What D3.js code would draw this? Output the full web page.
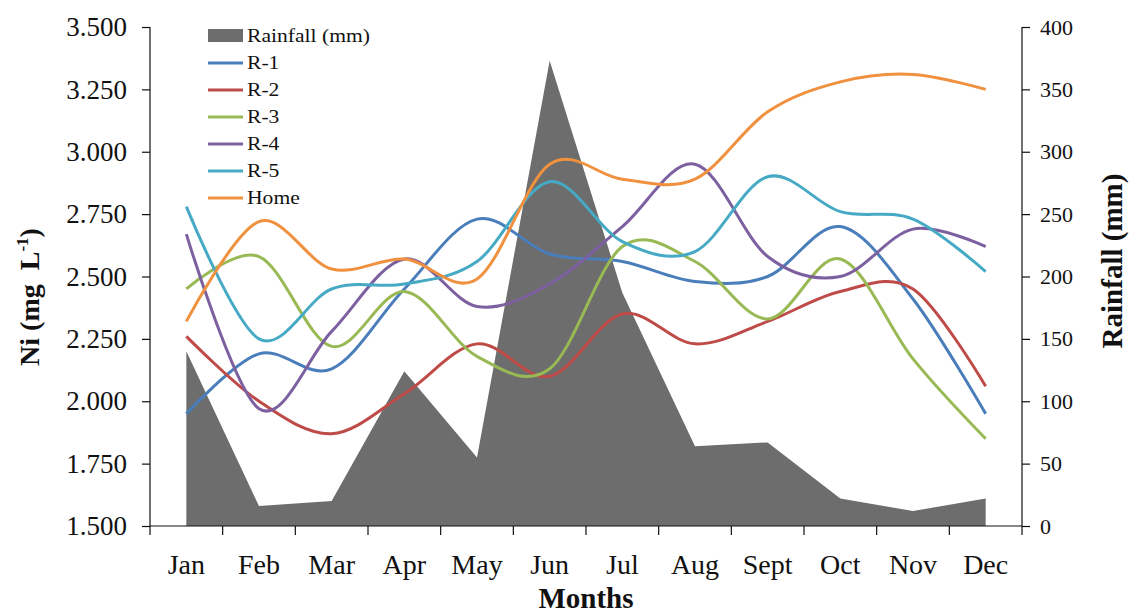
<!DOCTYPE html>
<html><head><meta charset="utf-8">
<script src="https://cdn.jsdelivr.net/npm/d3@7"></script>
<style>
body{margin:0;background:#fff;}
text{font-family:"Liberation Serif","Times New Roman",serif;fill:#111;}
</style></head>
<body><svg id="c" width="1132" height="614"></svg>
<script>
const months = ["Jan","Feb","Mar","Apr","May","Jun","Jul","Aug","Sept","Oct","Nov","Dec"];
const rainfall = [140,16,20,124,55,373,187,64,67,22,12,22];
const r1   = [1.95,2.19,2.13,2.45,2.73,2.59,2.56,2.48,2.50,2.70,2.41,1.95];
const r2   = [2.26,2.00,1.87,2.03,2.23,2.10,2.35,2.23,2.32,2.44,2.45,2.06];
const r3   = [2.45,2.58,2.22,2.44,2.18,2.13,2.62,2.56,2.33,2.57,2.17,1.85];
const r4   = [2.67,1.97,2.28,2.57,2.38,2.47,2.70,2.95,2.58,2.50,2.69,2.62];
const r5   = [2.78,2.25,2.45,2.47,2.56,2.88,2.64,2.60,2.90,2.76,2.73,2.52];
const home = [2.32,2.72,2.53,2.57,2.49,2.95,2.89,2.89,3.16,3.28,3.31,3.25];
const leftTicks = [1.5,1.75,2.0,2.25,2.5,2.75,3.0,3.25,3.5];
const rightTicks = [0,50,100,150,200,250,300,350,400];
const seriesNames = ["R-1","R-2","R-3","R-4","R-5","Home"];
const seriesData = [r1,r2,r3,r4,r5,home];
const seriesColors = ["#4A7EBB","#BE4B48","#98B954","#7D60A0","#46AAC5","#F0913F"];

const svg = d3.select("#c");
const L=150, R=1022, T=27, B=526;
const x = d3.scaleBand().domain(months).range([L,R]);
const cx = m => x(m)+x.bandwidth()/2;
const y = d3.scaleLinear().domain([1.5,3.5]).range([B,T]);
const y2 = d3.scaleLinear().domain([0,400]).range([B,T]);

// rainfall area
const area = d3.area().x((d,i)=>cx(months[i])).y0(B).y1(d=>y2(d));
svg.append("path").datum(rainfall).attr("d",area).attr("fill","#6D6D6D");

// lines
const line = d3.line().x((d,i)=>cx(months[i])).y(d=>y(d)).curve(d3.curveCatmullRom.alpha(0));
seriesData.forEach((s,k)=>{
  svg.append("path").datum(s).attr("d",line).attr("fill","none")
    .attr("stroke",seriesColors[k]).attr("stroke-width",3);
});

// axes
const fmt = d3.format(".3f");
const gl = svg.append("g").attr("transform",`translate(${L},0)`)
  .call(d3.axisLeft(y).tickValues(leftTicks).tickFormat(fmt).tickSize(8).tickPadding(15));
const gr = svg.append("g").attr("transform",`translate(${R},0)`)
  .call(d3.axisRight(y2).tickValues(rightTicks).tickSize(8).tickPadding(10));
const gx = svg.append("g").attr("transform",`translate(0,${B})`)
  .call(d3.axisBottom(x).tickSize(0).tickPadding(28));
// category boundary ticks
const bounds = months.map(m=>x(m)).concat([R]);
svg.append("g").selectAll("line").data(bounds).join("line")
  .attr("x1",d=>d).attr("x2",d=>d).attr("y1",B).attr("y2",B+9)
  .attr("stroke","#111").attr("stroke-width",1.2);

[gl,gr,gx].forEach(g=>{
  g.selectAll("path").attr("stroke","#111").attr("stroke-width",1.2);
  g.selectAll("line").attr("stroke","#111").attr("stroke-width",1.2);
  g.selectAll("text").attr("font-family","Liberation Serif").attr("fill","#111");
});
gl.selectAll("text").attr("font-size",27);
gr.selectAll("text").attr("font-size",22);
gx.selectAll("text").attr("font-size",28);
gl.select(".domain").attr("d",`M0,${T}V${B}`);
gr.select(".domain").attr("d",`M0,${T}V${B}`);
gx.select(".domain").attr("d",`M${L},0H${R}`);

// axis titles
svg.append("text").attr("transform","translate(39,297) rotate(-90)")
  .attr("text-anchor","middle").attr("font-size",28).attr("font-weight","bold")
  .html('Ni (mg&#160; L<tspan dy="-11" font-size="17">-1</tspan><tspan dy="11">)</tspan>');
svg.append("text").attr("transform","translate(1122,261) rotate(-90)")
  .attr("text-anchor","middle").attr("font-size",29).attr("font-weight","bold")
  .text("Rainfall (mm)");
svg.append("text").attr("x",(L+R)/2).attr("y",608).attr("text-anchor","middle")
  .attr("font-size",29).attr("font-weight","bold").text("Months");

// legend
const lg = svg.append("g");
const rowY = i => 36 + i*27;
lg.append("rect").attr("x",208).attr("y",rowY(0)-7).attr("width",35).attr("height",13).attr("fill","#6D6D6D");
lg.append("text").attr("transform",`translate(247,${rowY(0)+6}) scale(1.2,1)`).attr("font-size",18).text("Rainfall (mm)");
seriesNames.forEach((n,k)=>{
  const yy=rowY(k+1);
  lg.append("line").attr("x1",208).attr("x2",243).attr("y1",yy).attr("y2",yy)
    .attr("stroke",seriesColors[k]).attr("stroke-width",3);
  lg.append("text").attr("transform",`translate(247,${yy+6}) scale(1.2,1)`).attr("font-size",18).text(n);
});
</script></body></html>
